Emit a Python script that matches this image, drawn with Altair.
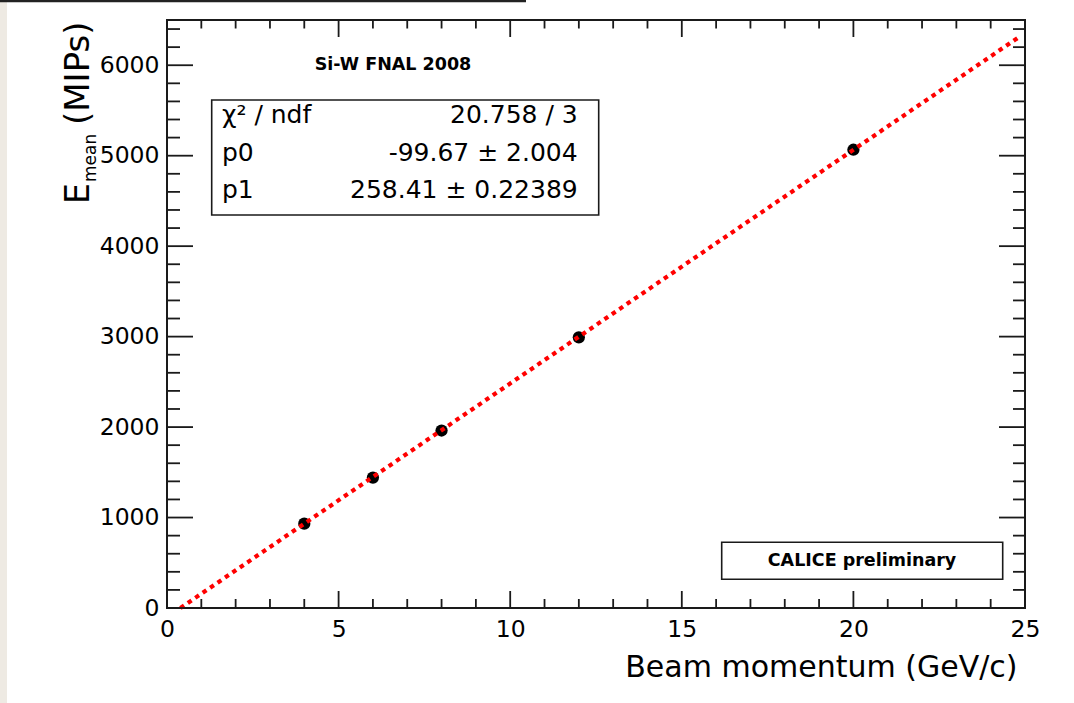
import altair as alt
import pandas as pd

# ---- data ----
momentum = [4, 6, 8, 12, 20]
emean = [932, 1442, 1962, 2992, 5066]

fit_x = [0.39, 24.8]
fit_y = [0, 6305]

x_major = [0, 5, 10, 15, 20, 25]
x_minor = [1, 2, 3, 4, 6, 7, 8, 9, 11, 12, 13, 14, 16, 17, 18, 19, 21, 22, 23, 24]
y_major = [0, 1000, 2000, 3000, 4000, 5000, 6000]
y_minor = [200, 400, 600, 800, 1200, 1400, 1600, 1800, 2200, 2400, 2600, 2800,
           3200, 3400, 3600, 3800, 4200, 4400, 4600, 4800, 5200, 5400, 5600, 5800,
           6200, 6400]

stat_names = ["χ² / ndf", "p0", "p1"]
stat_values = ["20.758 / 3", "-99.67 ± 2.004", "258.41 ± 0.22389"]

x_title = "Beam momentum (GeV/c)"
y_title_parts = ["E", "mean", "(MIPs)"]
top_label = "Si-W FNAL 2008"
box_label = "CALICE preliminary"

FONT = "DejaVu Sans"
W, H = 858, 588
INK = "#1a1a1a"

xscale = alt.Scale(domain=[0, 25], nice=False, zero=False)
yscale = alt.Scale(domain=[0, 6500], nice=False, zero=False)

XAXIS = alt.Axis(
    values=x_major, ticks=False, domain=False, grid=False, format="d",
    labelFont=FONT, labelFontSize=23.5, labelColor="black", labelPadding=9,
    labelOverlap=False, labelFlush=False,
    title=x_title, titleFont=FONT, titleFontSize=30, titleFontWeight="normal",
    titleColor="black", titleAlign="right", titleAnchor="end",
    titleX=850, titleY=68, titleBaseline="alphabetic")
YAXIS = alt.Axis(
    values=y_major, ticks=False, domain=False, grid=False, format="d",
    labelFont=FONT, labelFontSize=23.5, labelColor="black", labelPadding=8,
    labelOverlap=False, labelFlush=False, title=None)


def X():
    return alt.X("momentum:Q", scale=xscale, axis=XAXIS)


def Y():
    return alt.Y("emean:Q", scale=yscale, axis=YAXIS)


pts = pd.DataFrame({"momentum": momentum, "emean": emean})
fit = pd.DataFrame({"momentum": fit_x, "emean": fit_y})
one = pd.DataFrame({"k": [0]})

points = alt.Chart(pts).mark_circle(color="black", size=150, opacity=1).encode(x=X(), y=Y())

fitline = alt.Chart(fit).mark_line(color="#ff0000", strokeWidth=4.2, strokeDash=[4.5, 4.5],
                                   strokeCap="butt").encode(x=X(), y=Y())


def xticks(vals, length, top):
    df = pd.DataFrame({"momentum": vals})
    if top:
        y0, y1 = 0, length
    else:
        y0, y1 = H, H - length
    return alt.Chart(df).mark_rule(color=INK, strokeWidth=1.8).encode(
        x=X(), y=alt.value(y0), y2=alt.value(y1))


def yticks(vals, length, right):
    df = pd.DataFrame({"emean": vals})
    if right:
        x0, x1 = W, W - length
    else:
        x0, x1 = 0, length
    return alt.Chart(df).mark_rule(color=INK, strokeWidth=1.8).encode(
        y=Y(), x=alt.value(x0), x2=alt.value(x1))


ticks = [
    xticks(x_major, 17, False), xticks(x_minor, 9, False),
    xticks(x_major, 17, True), xticks(x_minor, 8.5, True),
    yticks(y_major, 26, False), yticks(y_minor, 13, False),
    yticks(y_major, 26, True), yticks(y_minor, 12, True),
]


def text_at(txt, x, y, size, align="left", baseline="alphabetic", weight="normal", angle=0):
    kw = dict(text=txt, font=FONT, fontSize=size, align=align, baseline=baseline,
              fontWeight=weight, color="black")
    if angle:
        kw["angle"] = angle
    return alt.Chart(one).mark_text(**kw).encode(x=alt.value(x), y=alt.value(y))


def box(x0, x1, y0, y1):
    return alt.Chart(one).mark_rect(fill="white", stroke=INK, strokeWidth=1.6).encode(
        x=alt.value(x0), x2=alt.value(x1), y=alt.value(y0), y2=alt.value(y1))


stats_box = box(44.7, 431.7, 80, 195)
stat_rows = [103, 140.7, 178]
stat_texts = []
for name, val, yy in zip(stat_names, stat_values, stat_rows):
    stat_texts.append(text_at(name, 55, yy, 25))
    stat_texts.append(text_at(val, 410.7, yy, 25, align="right"))

calice_box = box(554.7, 835.7, 522.3, 559.3)
calice_txt = text_at(box_label, 695, 541, 17.5, align="center", baseline="middle", weight="bold")
siw_txt = text_at(top_label, 226, 45, 17.5, align="center", baseline="middle", weight="bold")

ytitle = [
    text_at(y_title_parts[0], -78, 184, 33, angle=270),
    text_at(y_title_parts[1], -71, 162, 17, angle=270),
    text_at(y_title_parts[2], -78, 105, 34, angle=270),
]

# page decorations: beige strip at the left edge and dark rule at the top
strip = alt.Chart(one).mark_rect(fill="#eeeae3").encode(
    x=alt.value(-167), x2=alt.value(-160), y=alt.value(-20), y2=alt.value(683))
topline = alt.Chart(one).mark_rule(color="#222222", strokeWidth=2.5).encode(
    x=alt.value(-167), x2=alt.value(359), y=alt.value(-19))

chart = alt.layer(
    points, fitline, strip, topline, stats_box, calice_box, *ticks,
    *stat_texts, calice_txt, siw_txt, *ytitle,
).properties(
    width=W, height=H, autosize="none",
    padding={"left": 167, "top": 20, "right": 49, "bottom": 95},
    background="white",
).configure_view(stroke=INK, strokeWidth=2)

chart.save("out.html", embed_options={"renderer": "svg", "actions": False})
